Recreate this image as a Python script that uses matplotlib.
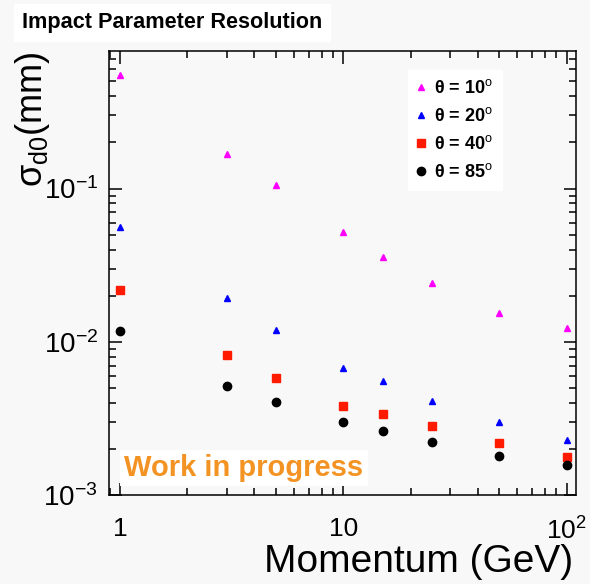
import numpy as np
import matplotlib
matplotlib.use('Agg')
import matplotlib.pyplot as plt
from matplotlib.ticker import FixedLocator, FixedFormatter, LogLocator, NullFormatter

plt.rcParams['font.family'] = ['Liberation Sans', 'DejaVu Sans']
plt.rcParams['mathtext.fontset'] = 'custom'
plt.rcParams['mathtext.rm'] = 'Liberation Sans'
plt.rcParams['mathtext.it'] = 'Liberation Sans:italic'
plt.rcParams['mathtext.bf'] = 'Liberation Sans:bold'

# momentum points (GeV)
momentum = [1, 3, 5, 10, 15, 25, 50, 100]

# sigma_d0 (mm) per polar angle
sig_10 = [0.55, 0.169, 0.105, 0.0524, 0.0356, 0.0241, 0.0154, 0.0123]
sig_20 = [0.0558, 0.0192, 0.0119, 0.00673, 0.00551, 0.00409, 0.00298, 0.00229]
sig_40 = [0.0219, 0.00818, 0.00579, 0.00382, 0.00337, 0.00280, 0.00220, 0.00178]
sig_85 = [0.0118, 0.00513, 0.00405, 0.00301, 0.00262, 0.00223, 0.00181, 0.00156]

labels = [r'θ = 10$^{\rm o}$', r'θ = 20$^{\rm o}$', r'θ = 40$^{\rm o}$', r'θ = 85$^{\rm o}$']
xtick_vals = [1, 10, 100]
xtick_labels = ['1', '10', r'$10^{2}$']

bg = '#f8f8f8'
fig = plt.figure(figsize=(5.9, 5.84), dpi=100, facecolor=bg)
ax = fig.add_axes([0.1847, 0.1524, 0.7915, 0.7603], facecolor=bg)

ax.plot(momentum, sig_10, linestyle='none', marker='^', color='#ff00ff', markersize=5, label=labels[0])
ax.plot(momentum, sig_20, linestyle='none', marker='^', color='#0000ff', markersize=5, label=labels[1])
ax.plot(momentum, sig_40, linestyle='none', marker='s', color='#ff1a00', markersize=5.5, label=labels[2])
ax.plot(momentum, sig_85, linestyle='none', marker='o', color='black', markersize=6, label=labels[3])

ax.set_xscale('log')
ax.set_yscale('log')
ax.set_xlim(0.893, 110)
ax.set_ylim(1e-3, 0.79)

ax.xaxis.set_major_locator(FixedLocator(xtick_vals))
ax.xaxis.set_major_formatter(FixedFormatter(xtick_labels))
ax.xaxis.set_minor_locator(LogLocator(base=10, subs=np.arange(2, 10)))
ax.xaxis.set_minor_formatter(NullFormatter())
ax.yaxis.set_minor_locator(LogLocator(base=10, subs=np.arange(2, 10)))
ax.yaxis.set_minor_formatter(NullFormatter())

ax.tick_params(which='both', direction='in', top=True, right=True, width=1.1)
ax.tick_params(which='major', length=9)
ax.tick_params(which='minor', length=5)
ax.tick_params(axis='x', which='major', labelsize=19, pad=16)
ax.tick_params(axis='y', which='major', labelsize=20, pad=8)
for s in ax.spines.values():
    s.set_linewidth(1.1)

ax.set_xlabel('Momentum (GeV)', fontsize=28, loc='right')
ax.xaxis.set_label_coords(0.995, -0.11)
ax.set_ylabel(r'σ$_{\rm d0}$(mm)', fontsize=26, loc='top')
ax.yaxis.set_label_coords(-0.122, 1.0)

leg = ax.legend(loc='upper left', bbox_to_anchor=(0.640, 0.957), borderaxespad=0,
                frameon=True, fancybox=False, facecolor='white', edgecolor='white',
                framealpha=1, prop={'size': 13, 'weight': 'bold'}, handlelength=0.5,
                handletextpad=0.45, labelspacing=0.55, borderpad=0.5)

fig.text(0.038, 0.961, 'Impact Parameter Resolution', fontsize=15.6, fontweight='bold',
         ha='left', va='center',
         bbox=dict(facecolor='white', edgecolor='none', boxstyle='square,pad=0.4'))

ax.text(0.033, 0.061, 'Work in progress', transform=ax.transAxes, fontsize=21,
        fontweight='bold', color='#f39323', ha='left', va='center',
        bbox=dict(facecolor='white', edgecolor='none', boxstyle='square,pad=0.15'))

fig.savefig('out.png', dpi=100, facecolor=bg)
